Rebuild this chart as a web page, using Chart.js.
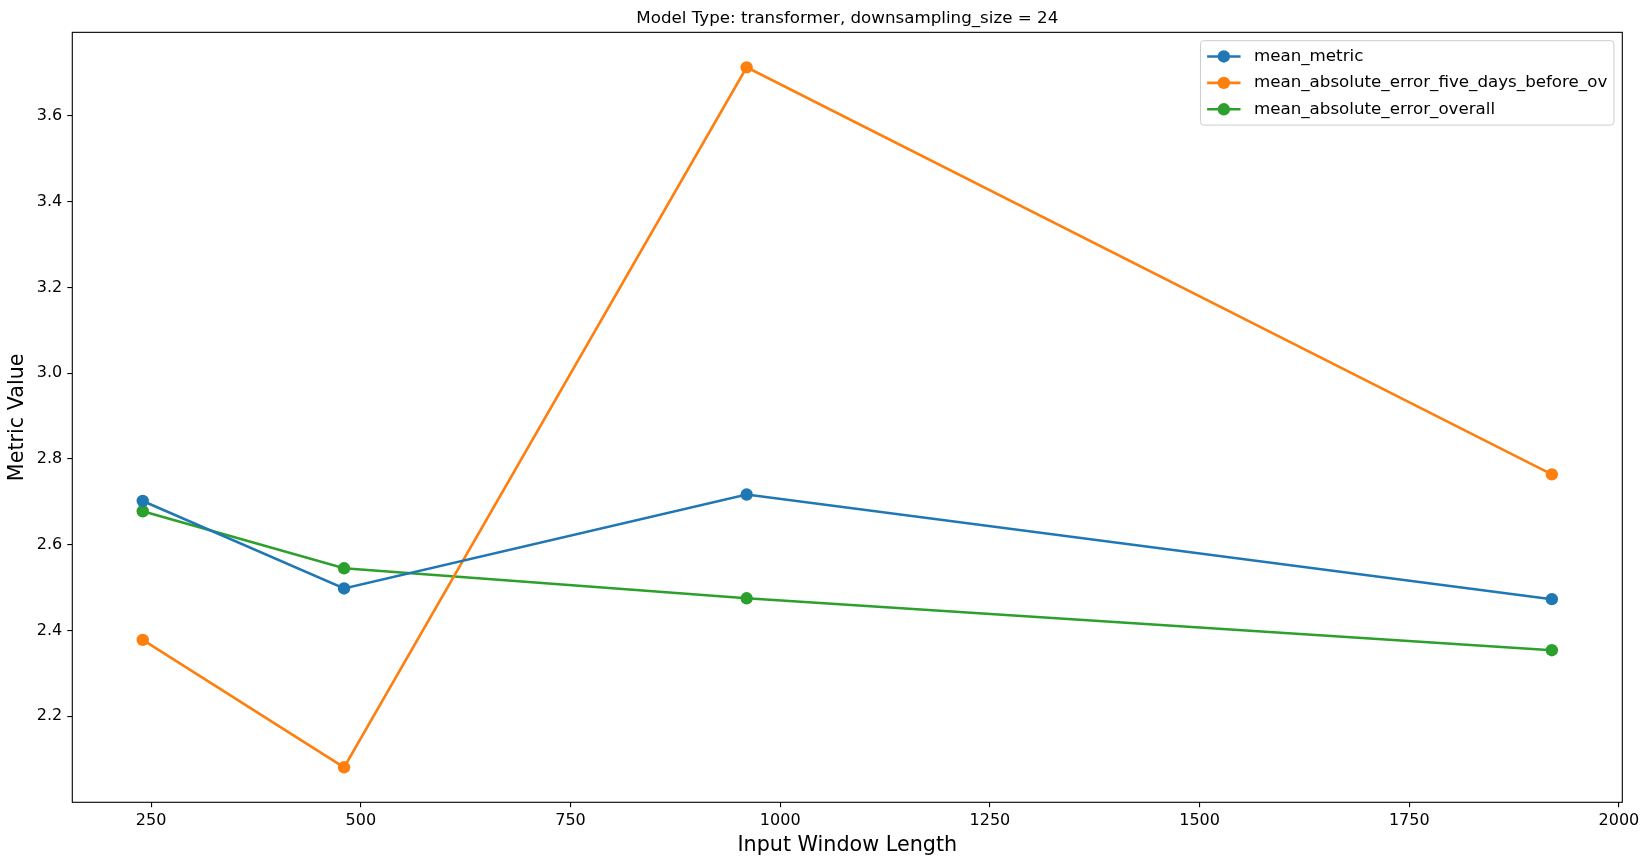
<!DOCTYPE html>
<html>
<head>
<meta charset="utf-8">
<title>Model Type: transformer, downsampling_size = 24</title>
<script src="https://cdn.jsdelivr.net/npm/chart.js@4/dist/chart.umd.min.js"></script>
<style>
  html, body { margin: 0; padding: 0; background: #fff; }
  #wrap { width: 1649px; height: 865px; position: relative; }
</style>
</head>
<body>
<div id="wrap"><canvas id="chart"></canvas></div>
<script>
const windowLengths = [240, 480, 960, 1920];
const meanMetric = [2.702, 2.498, 2.717, 2.473];
const maeFiveDaysBefore = [2.378, 2.081, 3.713, 2.764];
const maeOverall = [2.678, 2.545, 2.475, 2.354];

const seriesLabels = [
  "mean_metric",
  "mean_absolute_error_five_days_before_ov",
  "mean_absolute_error_overall",
];
const seriesColors = ["#1f77b4", "#ff7f0e", "#2ca02c"];

const xTickValues = [250, 500, 750, 1000, 1250, 1500, 1750, 2000];
const yTickValues = [2.2, 2.4, 2.6, 2.8, 3.0, 3.2, 3.4, 3.6];

// matplotlib style 5% margins around the data
function paddedRange(values) {
  const lo = Math.min(...values);
  const hi = Math.max(...values);
  const m = (hi - lo) * 0.05;
  return [lo - m, hi + m];
}
const [xMin, xMax] = paddedRange(windowLengths);
const [yMin, yMax] = paddedRange([...meanMetric, ...maeFiveDaysBefore, ...maeOverall]);

Chart.defaults.font.family = '"DejaVu Sans", "Liberation Sans", sans-serif';
Chart.defaults.color = "#000";

const frame = {
  id: "frame",
  afterDatasetsDraw(chart) {
    const { ctx, chartArea: a } = chart;
    ctx.save();
    ctx.strokeStyle = "#000";
    ctx.lineWidth = 1.1;
    ctx.strokeRect(a.left, a.top, a.right - a.left, a.bottom - a.top);
    ctx.restore();
  },
};

const boxLegend = {
  id: "boxLegend",
  afterDatasetsDraw(chart, args, opts) {
    const { ctx, chartArea: a } = chart;
    const fs = opts.fontSize;
    const pad = 0.4 * fs;
    const handleLen = 2 * fs;
    const handleGap = 0.8 * fs;
    const rowH = opts.rowHeight;
    const edge = 0.5 * fs;
    const sets = chart.data.datasets;
    ctx.save();
    ctx.font = fs + 'px "DejaVu Sans", sans-serif';
    const textW = Math.max(...sets.map((d) => ctx.measureText(d.label).width));
    const w = pad + handleLen + handleGap + textW + pad;
    const h = 2 * opts.firstRow + (sets.length - 1) * rowH;
    const x0 = a.right - edge - w;
    const y0 = a.top + edge;
    ctx.beginPath();
    ctx.roundRect(x0, y0, w, h, 0.2 * fs);
    ctx.fillStyle = "rgba(255,255,255,0.8)";
    ctx.fill();
    ctx.strokeStyle = "#cccccc";
    ctx.lineWidth = 1;
    ctx.stroke();
    sets.forEach((d, i) => {
      const cy = y0 + opts.firstRow + i * rowH;
      const hx = x0 + pad;
      ctx.strokeStyle = d.borderColor;
      ctx.lineWidth = d.borderWidth;
      ctx.beginPath();
      ctx.moveTo(hx, cy);
      ctx.lineTo(hx + handleLen, cy);
      ctx.stroke();
      ctx.fillStyle = d.pointBackgroundColor;
      ctx.beginPath();
      ctx.arc(hx + handleLen / 2, cy, d.pointRadius, 0, Math.PI * 2);
      ctx.fill();
      ctx.fillStyle = "#000";
      ctx.textAlign = "left";
      ctx.textBaseline = "middle";
      ctx.fillText(d.label, hx + handleLen + handleGap, cy);
    });
    ctx.restore();
  },
};

function makeSeries(label, values, color) {
  return {
    label: label,
    data: windowLengths.map((x, i) => ({ x: x, y: values[i] })),
    borderColor: color,
    backgroundColor: color,
    pointBackgroundColor: color,
    pointBorderColor: color,
    pointBorderWidth: 0,
    pointRadius: 6.2,
    pointHoverRadius: 6.2,
    borderWidth: 2.6,
    tension: 0,
    fill: false,
  };
}

new Chart(document.getElementById("chart").getContext("2d"), {
  type: "line",
  data: {
    datasets: [
      makeSeries(seriesLabels[0], meanMetric, seriesColors[0]),
      makeSeries(seriesLabels[1], maeFiveDaysBefore, seriesColors[1]),
      makeSeries(seriesLabels[2], maeOverall, seriesColors[2]),
    ],
  },
  plugins: [frame, boxLegend],
  options: {
    responsive: true,
    maintainAspectRatio: false,
    animation: false,
    layout: { padding: { top: 0, right: 26.7, bottom: 0, left: 0 } },
    plugins: {
      legend: { display: false },
      tooltip: { enabled: false },
      title: {
        display: true,
        fullSize: false,
        text: "Model Type: transformer, downsampling_size = 24",
        color: "#000",
        font: { size: 16.7, weight: "normal" },
        padding: { top: 8.3, bottom: 4 },
      },
      boxLegend: { fontSize: 16.7, rowHeight: 26.4, firstRow: 15.8 },
    },
    scales: {
      x: {
        type: "linear",
        min: xMin,
        max: xMax,
        afterBuildTicks: (scale) => {
          scale.ticks = xTickValues.map((v) => ({ value: v }));
        },
        afterFit: (scale) => {
          scale.height = 62.7;
        },
        ticks: {
          font: { size: 16 },
          color: "#000",
          padding: 4,
          maxRotation: 0,
          autoSkip: false,
          callback: (v) => String(v),
        },
        grid: {
          display: true,
          drawOnChartArea: false,
          drawTicks: true,
          tickLength: 5,
          color: "#000",
          lineWidth: 1.1,
        },
        border: { display: false },
        title: {
          display: true,
          text: "Input Window Length",
          color: "#000",
          font: { size: 20.7 },
          padding: { top: 0, bottom: 6.9 },
        },
      },
      y: {
        type: "linear",
        min: yMin,
        max: yMax,
        afterBuildTicks: (scale) => {
          scale.ticks = yTickValues.map((v) => ({ value: v }));
        },
        afterFit: (scale) => {
          scale.width = 72.3;
        },
        ticks: {
          font: { size: 16 },
          color: "#000",
          padding: 5,
          autoSkip: false,
          callback: (v) => v.toFixed(1),
        },
        grid: {
          display: true,
          drawOnChartArea: false,
          drawTicks: true,
          tickLength: 5,
          color: "#000",
          lineWidth: 1.1,
        },
        border: { display: false },
        title: {
          display: true,
          text: "Metric Value",
          color: "#000",
          font: { size: 20.7 },
          padding: { top: 5.5, bottom: 0 },
        },
      },
    },
  },
});
</script>
</body>
</html>
